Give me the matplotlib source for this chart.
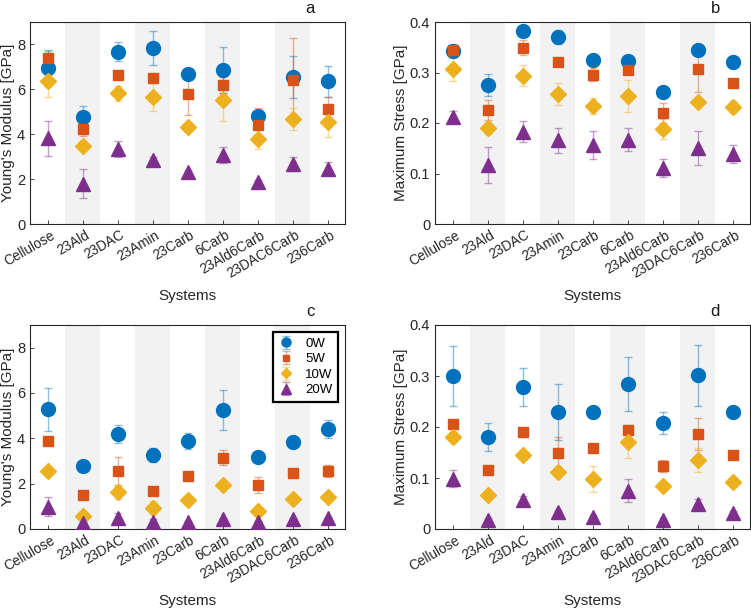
import matplotlib
matplotlib.use("Agg")
import matplotlib.pyplot as plt
import numpy as np
from matplotlib.transforms import ScaledTranslation, blended_transform_factory

plt.rcParams['font.family'] = ['Liberation Sans', 'DejaVu Sans']

systems = ["Cellulose", "23Ald", "23DAC", "23Amin", "23Carb", "6Carb",
           "23Ald6Carb", "23DAC6Carb", "236Carb"]
series = ["0W", "5W", "10W", "20W"]

# Panel a: Young's modulus (GPa)
a_val = {
    "0W":  [6.95, 4.75, 7.68, 7.83, 6.70, 6.85, 4.83, 6.55, 6.36],
    "5W":  [7.40, 4.23, 6.64, 6.51, 5.78, 6.18, 4.40, 6.43, 5.14],
    "10W": [6.36, 3.46, 5.82, 5.65, 4.31, 5.51, 3.80, 4.68, 4.55],
    "20W": [3.83, 1.80, 3.34, 2.87, 2.32, 3.09, 1.86, 2.67, 2.47],
}
a_err = {
    "0W":  [0.80, 0.50, 0.42, 0.75, 0.20, 1.02, 0.20, 0.95, 0.70],
    "5W":  [0.30, 0.30, 0.10, 0.15, 0.92, 0.35, 0.75, 1.86, 0.50],
    "10W": [0.72, 0.10, 0.35, 0.62, 0.10, 0.90, 0.46, 0.51, 0.69],
    "20W": [0.78, 0.63, 0.36, 0.10, 0.10, 0.35, 0.10, 0.30, 0.30],
}
# Panel b: maximum stress (GPa)
b_val = {
    "0W":  [0.342, 0.276, 0.383, 0.370, 0.325, 0.323, 0.261, 0.345, 0.321],
    "5W":  [0.344, 0.226, 0.349, 0.321, 0.296, 0.304, 0.220, 0.306, 0.280],
    "10W": [0.306, 0.190, 0.294, 0.257, 0.233, 0.254, 0.188, 0.241, 0.231],
    "20W": [0.212, 0.117, 0.183, 0.166, 0.157, 0.167, 0.111, 0.150, 0.139],
}
b_err = {
    "0W":  [0.010, 0.022, 0.005, 0.014, 0.005, 0.005, 0.004, 0.005, 0.012],
    "5W":  [0.012, 0.020, 0.015, 0.005, 0.012, 0.005, 0.020, 0.044, 0.005],
    "10W": [0.023, 0.012, 0.020, 0.022, 0.016, 0.032, 0.019, 0.005, 0.012],
    "20W": [0.012, 0.035, 0.020, 0.025, 0.028, 0.023, 0.018, 0.034, 0.018],
}
# Panel c: Young's modulus (GPa)
c_val = {
    "0W":  [5.29, 2.79, 4.19, 3.26, 3.90, 5.25, 3.16, 3.82, 4.40],
    "5W":  [3.88, 1.50, 2.57, 1.68, 2.35, 3.15, 1.94, 2.46, 2.56],
    "10W": [2.56, 0.59, 1.62, 0.94, 1.28, 1.94, 0.79, 1.32, 1.43],
    "20W": [0.99, 0.25, 0.50, 0.32, 0.32, 0.44, 0.32, 0.43, 0.50],
}
c_err = {
    "0W":  [0.95, 0.08, 0.40, 0.30, 0.35, 0.87, 0.08, 0.08, 0.40],
    "5W":  [0.10, 0.15, 0.61, 0.10, 0.10, 0.34, 0.36, 0.10, 0.25],
    "10W": [0.10, 0.10, 0.30, 0.30, 0.10, 0.10, 0.10, 0.10, 0.10],
    "20W": [0.40, 0.10, 0.20, 0.10, 0.05, 0.05, 0.05, 0.05, 0.05],
}
# Panel d: maximum stress (GPa)
d_val = {
    "0W":  [0.300, 0.180, 0.279, 0.230, 0.230, 0.284, 0.208, 0.301, 0.230],
    "5W":  [0.205, 0.116, 0.191, 0.150, 0.158, 0.194, 0.124, 0.186, 0.146],
    "10W": [0.181, 0.067, 0.145, 0.112, 0.098, 0.171, 0.085, 0.135, 0.093],
    "20W": [0.099, 0.018, 0.057, 0.033, 0.023, 0.075, 0.018, 0.050, 0.031],
}
d_err = {
    "0W":  [0.059, 0.027, 0.037, 0.055, 0.004, 0.053, 0.021, 0.059, 0.004],
    "5W":  [0.005, 0.004, 0.004, 0.030, 0.004, 0.010, 0.012, 0.032, 0.006],
    "10W": [0.010, 0.004, 0.004, 0.004, 0.026, 0.031, 0.004, 0.024, 0.004],
    "20W": [0.016, 0.004, 0.007, 0.004, 0.004, 0.023, 0.004, 0.008, 0.004],
}

colors = {"0W": "#0072BD", "5W": "#D95319", "10W": "#EDB120", "20W": "#7E2F8E"}
markers = {"0W": ("o", 10), "5W": ("s", 7.5), "10W": ("D", 8), "20W": ("^", 10)}

fig = plt.figure(figsize=(7.51, 6.08), dpi=100)
W, H = 751, 608
def pos(l, r, t, b):
    return [l / W, 1 - b / H, (r - l) / W, (b - t) / H]

panels = [
    (pos(30, 345, 22, 224), a_val, a_err, 9, [0, 2, 4, 6, 8], "Young's Modulus [GPa]", "a", False, -0.322),
    (pos(435, 750, 22, 224), b_val, b_err, 0.4, [0, 0.1, 0.2, 0.3, 0.4], "Maximum Stress [GPa]", "b", False, -0.322),
    (pos(30, 345, 325, 529), c_val, c_err, 9, [0, 2, 4, 6, 8], "Young's Modulus [GPa]", "c", True, -0.319),
    (pos(435, 750, 325, 529), d_val, d_err, 0.4, [0, 0.1, 0.2, 0.3, 0.4], "Maximum Stress [GPa]", "d", False, -0.319),
]

x = np.arange(1, len(systems) + 1)
for rect, vals, errs, ymax, yt, ylab, letter, legend, xly in panels:
    ax = fig.add_axes(rect)
    for i in range(2, len(systems) + 1, 2):
        ax.axvspan(i - 0.5, i + 0.5, color="#f2f2f2", zorder=0, lw=0)
    handles = []
    for s in series:
        m, ms = markers[s]
        h = ax.errorbar(x, vals[s], yerr=errs[s], fmt=m, ms=ms, color=colors[s],
                        mfc=colors[s], mec=colors[s], ecolor=colors[s],
                        elinewidth=1.0, capsize=3, capthick=1.0, zorder=3)
        for ln in h[1]:
            ln.set_alpha(0.45)
        for ln in h[2]:
            ln.set_alpha(0.45)
        handles.append(h)
    ax.set_xlim(0.5, len(systems) + 0.5)
    ax.set_ylim(0, ymax)
    ax.set_yticks(yt)
    ax.set_yticklabels([("%g" % v) for v in yt])
    ax.set_xticks(x)
    ax.set_xticklabels([])
    trans = blended_transform_factory(ax.transData, ax.transAxes) + \
        ScaledTranslation(6 / 100, -10 / 100, fig.dpi_scale_trans)
    for xi, name in zip(x, systems):
        ax.text(xi, 0, name, transform=trans, rotation=30, ha="right",
                va="center", rotation_mode="anchor", fontsize=9.8,
                color="#262626", clip_on=False)
    ax.tick_params(axis="y", labelsize=10.5)
    ax.tick_params(direction="in", length=3, colors="#262626",
                   top=False, right=False, width=0.6)
    for sp in ax.spines.values():
        sp.set_color("#262626")
        sp.set_linewidth(0.8)
    ax.set_ylabel(ylab, fontsize=11, color="#262626", labelpad=1)
    ax.set_xlabel("Systems", fontsize=11, color="#262626")
    ax.xaxis.set_label_coords(0.5, xly)
    ax.text(0.89, 1.03, letter, transform=ax.transAxes, fontsize=12,
            ha="center", va="bottom", color="#1a1a1a")
    if legend:
        leg = ax.legend(handles, series, loc="upper right", fontsize=9.5,
                        fancybox=False, framealpha=1, edgecolor="black",
                        markerscale=0.65, handlelength=1.15, borderaxespad=0.55,
                        labelspacing=0.25, handletextpad=0.9, borderpad=0.4)
        leg.get_frame().set_linewidth(1.6)

fig.savefig("out.png", dpi=100)
